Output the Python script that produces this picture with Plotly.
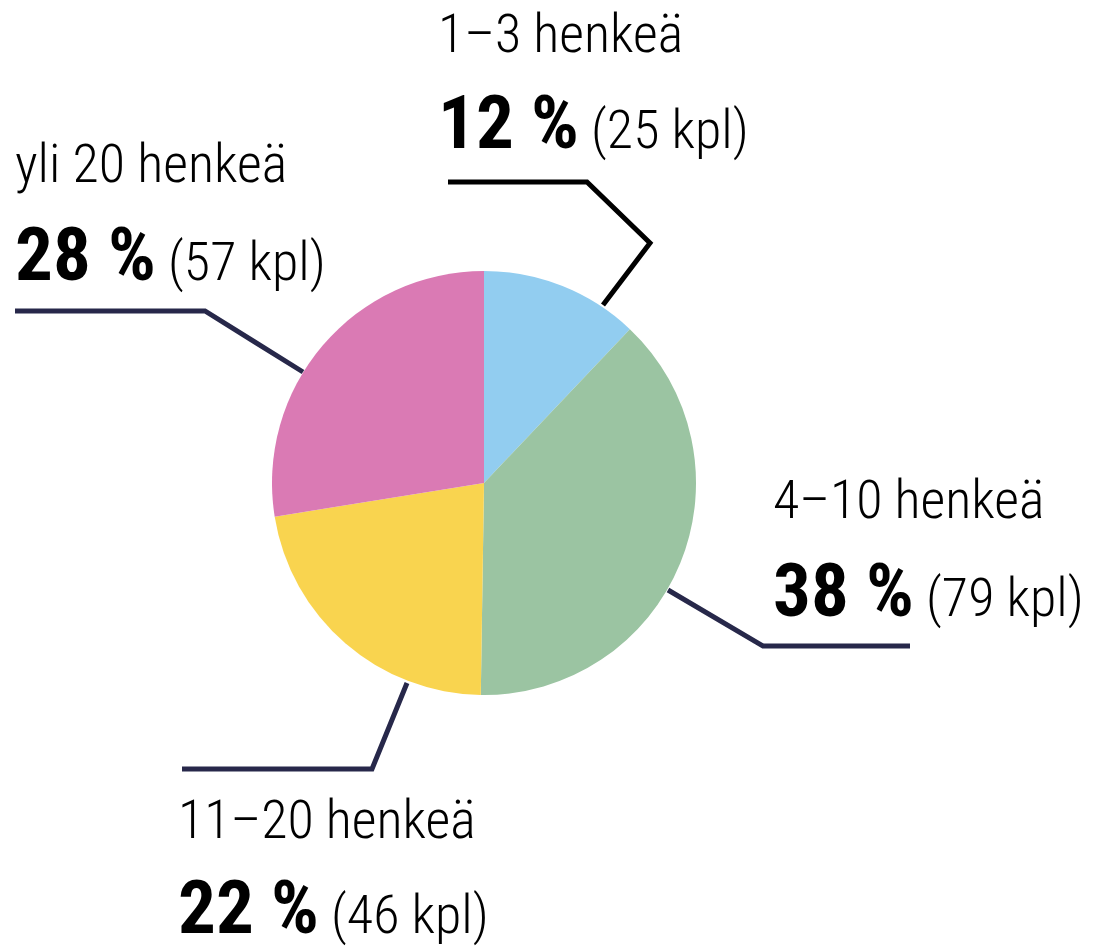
import plotly.graph_objects as go

categories = ["1–3 henkeä", "4–10 henkeä", "11–20 henkeä", "yli 20 henkeä"]
counts = [25, 79, 46, 57]
percent_labels = ["12 %", "38 %", "22 %", "28 %"]
colors = ["#92CDF0", "#9BC4A2", "#F9D44F", "#DA7AB4"]

# page has an 8px body margin; figure is sized to fit the window
PAGE_OFF = 8
W, H = 1111 - PAGE_OFF, 947 - PAGE_OFF
CX, CY, R = 484, 483, 212

# label layout (screen pixel positions of text left edges and line centres)
label_pos = {
    "1–3 henkeä": (436, 33, 122),
    "4–10 henkeä": (771, 499, 590),
    "11–20 henkeä": (176, 819, 907),
    "yli 20 henkeä": (13, 163, 254),
}
leaders = {
    "1–3 henkeä": ([(603, 305), (650, 243), (587, 182), (448, 182)], "#000000"),
    "4–10 henkeä": ([(668, 590), (763, 646), (910, 646)], "#27284A"),
    "11–20 henkeä": ([(407, 683), (372, 769), (182, 769)], "#27284A"),
    "yli 20 henkeä": ([(303, 372), (205, 311), (15, 311)], "#27284A"),
}

FONT = "Roboto Condensed, Liberation Sans Narrow, Arial Narrow, sans-serif"

def px(x):
    return (x - PAGE_OFF) / W

def py(y):
    return 1 - (y - PAGE_OFF) / H

fig = go.Figure(go.Pie(
    labels=categories,
    values=counts,
    sort=False,
    direction="clockwise",
    rotation=0,
    marker=dict(colors=colors, line=dict(width=0)),
    textinfo="none",
    hoverinfo="label+value+percent",
    showlegend=False,
    domain=dict(x=[px(CX - R), px(CX + R)], y=[py(CY + R), py(CY - R)]),
))

shapes = []
for cat, (pts, col) in leaders.items():
    path = "M " + " L ".join(f"{px(x)},{py(y)}" for x, y in pts)
    shapes.append(dict(type="path", path=path, xref="paper", yref="paper",
                       line=dict(color=col, width=5)))

annotations = []
for cat, pct, n in zip(categories, percent_labels, counts):
    x, y1, y2 = label_pos[cat]
    annotations.append(dict(
        text=cat, x=px(x), y=py(y1), xref="paper", yref="paper",
        xanchor="left", yanchor="middle", showarrow=False,
        font=dict(family=FONT, size=54, color="#000000", weight=300),
    ))
    annotations.append(dict(
        text=f"<b>{pct}</b><span style='font-size:54px;font-weight:300'> ({n} kpl)</span>",
        x=px(x), y=py(y2), xref="paper", yref="paper",
        xanchor="left", yanchor="middle", showarrow=False,
        font=dict(family=FONT, size=75, color="#000000"),
    ))

fig.update_layout(
    width=W, height=H,
    margin=dict(l=0, r=0, t=0, b=0),
    paper_bgcolor="white", plot_bgcolor="white",
    shapes=shapes, annotations=annotations,
)

fig.write_html("out.html")
